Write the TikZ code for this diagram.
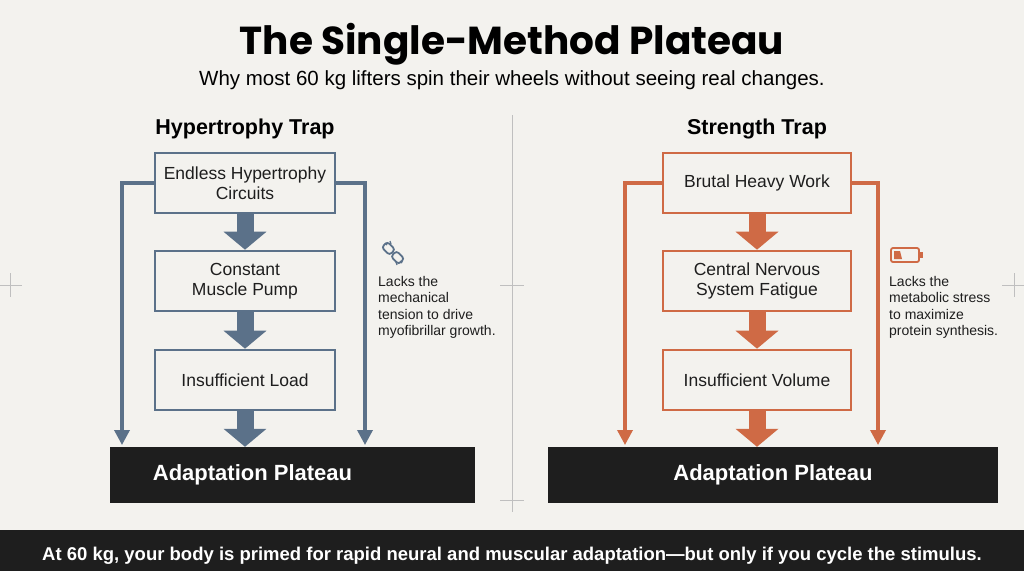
\documentclass[tikz,border=0pt]{standalone}
\usepackage{fontspec}
\setmainfont{Liberation Sans}
\newfontfamily\titlefont{Poppins}
\usetikzlibrary{arrows.meta}
\definecolor{paper}{HTML}{F3F2EE}
\definecolor{slate}{HTML}{5B7189}
\definecolor{rust}{HTML}{CF6A45}
\definecolor{ink}{HTML}{1E1E1E}
\tikzset{
  stepbox/.style={draw, line width=2.6pt, fill=paper, minimum width=180pt, minimum height=60pt, align=center, font=\fontsize{17.5}{20}\selectfont, text=ink},
  fat/.style={line width=17pt, -{Triangle[width=42pt 0,length=18pt 0]}},
  side/.style={line width=3.4pt, -{Triangle[width=15pt 0,length=15pt 0]}},
  bar/.style={fill=ink, text=white, font=\bfseries\fontsize{22}{26}\selectfont, inner sep=0pt},
  note/.style={anchor=north west, align=left, font=\fontsize{14}{16.5}\selectfont, text=ink, inner sep=0pt},
  cross/.style={draw=black!25, line width=0.6pt}
}
\begin{document}
\begin{tikzpicture}[x=1pt,y=-1pt]
  \fill[paper] (0,0) rectangle (1024,571);
  \useasboundingbox (0,0) rectangle (1024,571);
  % Frame marks
  \draw[cross] (512,115) -- (512,512);
  \foreach \cx/\cy in {10/285, 512/285, 1014/285, 512/500}
    \draw[cross] (\cx-12,\cy) -- (\cx+12,\cy) (\cx,\cy-12) -- (\cx,\cy+12);
  % Title
  \node (title) at (512,44) {\titlefont\bfseries\fontsize{39}{46}\selectfont The Single-Method Plateau};
  \node (sub) at (512,80) {\fontsize{20.5}{24}\selectfont Why most 60 kg lifters spin their wheels without seeing real changes.};
  % Hypertrophy trap
  \node[font=\bfseries\fontsize{21.5}{25}\selectfont] (hhead) at (245,129) {Hypertrophy Trap};
  \node[stepbox, draw=slate] (h1) at (245,183) {Endless Hypertrophy\\Circuits};
  \node[stepbox, draw=slate] (h2) at (245,281) {Constant\\Muscle Pump};
  \node[stepbox, draw=slate] (h3) at (245,380) {Insufficient Load};
  \node[bar, minimum width=365pt, minimum height=56pt] (hbar) at (292.5,475) {\hspace*{-80pt}Adaptation Plateau};
  \coordinate (hl) at (122,445);
  \coordinate (hr) at (365,445);
  \draw[fat, slate] (h1.south) -- (h2.north);
  \draw[fat, slate] (h2.south) -- (h3.north);
  \draw[fat, slate] (h3.south) -- (hbar.north -| h3.south);
  \draw[side, slate] (h1.west) -| (hl);
  \draw[side, slate] (h1.east) -| (hr);
  % broken link icon
  \begin{scope}[shift={(393,253)}, slate, line width=1.8pt]
    \draw[rotate=-45, rounded corners=3pt] (1,-4) rectangle (12,4);
    \draw[rotate=-45, rounded corners=3pt] (-12,-4) rectangle (-1,4);
    \draw[line width=1.2pt] (-3,-12) -- (-2,-9) (-8,-10) -- (-6,-8) (4,12) -- (3,9) (9,10) -- (7,8);
  \end{scope}
  \node[note] (hnote) at (378,276) {Lacks the\\mechanical\\tension to drive\\myofibrillar growth.};
  % Strength trap
  \node[font=\bfseries\fontsize{21.5}{25}\selectfont] (shead) at (757,129) {Strength Trap};
  \node[stepbox, draw=rust, minimum width=188pt] (s1) at (757,183) {Brutal Heavy Work};
  \node[stepbox, draw=rust, minimum width=188pt] (s2) at (757,281) {Central Nervous\\System Fatigue};
  \node[stepbox, draw=rust, minimum width=188pt] (s3) at (757,380) {Insufficient Volume};
  \node[bar, minimum width=450pt, minimum height=56pt] (sbar) at (773,475) {Adaptation Plateau};
  \coordinate (sl) at (625,445);
  \coordinate (sr) at (878,445);
  \draw[fat, rust] (s1.south) -- (s2.north);
  \draw[fat, rust] (s2.south) -- (s3.north);
  \draw[fat, rust] (s3.south) -- (sbar.north -| s3.south);
  \draw[side, rust] (s1.west) -| (sl);
  \draw[side, rust] (s1.east) -| (sr);
  % battery icon
  \begin{scope}[rust]
    \draw[line width=1.8pt, rounded corners=2pt] (891,248) rectangle (919,262);
    \fill (920,252) rectangle (923,258);
    \fill (894,251) -- (900,251) -- (902,259) -- (894,259) -- cycle;
  \end{scope}
  \node[note] (snote) at (889,276) {Lacks the\\metabolic stress\\to maximize\\protein synthesis.};
  % Footer
  \fill[ink] (0,530) rectangle (1024,571);
  \node[text=white, font=\bfseries\fontsize{18.5}{21}\selectfont] (foot) at (512,556) {At 60 kg, your body is primed for rapid neural and muscular adaptation---but only if you cycle the stimulus.};
\end{tikzpicture}
\end{document}
